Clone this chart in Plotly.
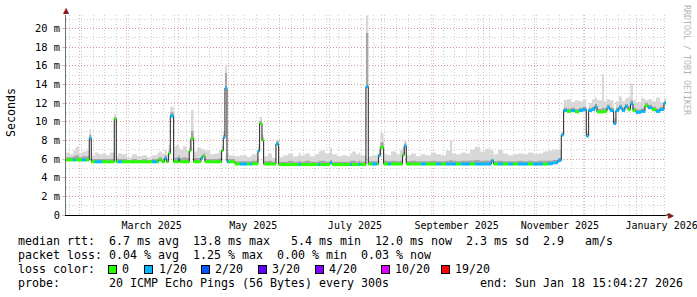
import plotly.graph_objects as go

# ---------------- data ----------------
dates = [
    "2025-01-23 15:04", "2025-01-26 00:00", "2025-01-27 19:00", "2025-01-29 07:00", "2025-01-31 10:00",
    "2025-02-02 05:00", "2025-02-04 14:00", "2025-02-06 14:00", "2025-02-07 19:00", "2025-02-10 00:00",
    "2025-02-12 10:00", "2025-02-14 05:00", "2025-02-16 14:00", "2025-02-19 00:00", "2025-02-21 14:00",
    "2025-02-22 19:00", "2025-02-23 19:00", "2025-02-26 05:00", "2025-03-01 05:00", "2025-03-04 05:00",
    "2025-03-07 05:00", "2025-03-10 05:00", "2025-03-13 05:00", "2025-03-16 05:00", "2025-03-19 05:00",
    "2025-03-20 05:00", "2025-03-22 05:00", "2025-03-23 19:00", "2025-03-25 00:00", "2025-03-26 05:00",
    "2025-03-27 05:00", "2025-03-29 05:00", "2025-03-30 14:00", "2025-04-01 05:00", "2025-04-01 19:00",
    "2025-04-03 19:00", "2025-04-05 14:00", "2025-04-07 14:00", "2025-04-08 14:00", "2025-04-10 05:00",
    "2025-04-12 05:00", "2025-04-14 14:00", "2025-04-15 19:00", "2025-04-17 00:00", "2025-04-20 00:00",
    "2025-04-23 00:00", "2025-04-25 10:00", "2025-04-27 00:00", "2025-04-28 00:00", "2025-04-29 00:00",
    "2025-04-30 05:00", "2025-05-01 10:00", "2025-05-05 00:00", "2025-05-08 00:00", "2025-05-12 05:00",
    "2025-05-14 00:00", "2025-05-15 05:00", "2025-05-18 19:00", "2025-05-19 19:00", "2025-05-21 05:00",
    "2025-05-22 05:00", "2025-05-24 19:00", "2025-05-27 05:00", "2025-05-29 14:00", "2025-05-31 05:00",
    "2025-06-02 19:00", "2025-06-05 19:00", "2025-06-08 19:00", "2025-06-12 05:00", "2025-06-13 05:00",
    "2025-06-16 00:00", "2025-06-19 00:00", "2025-06-22 00:00", "2025-06-24 05:00", "2025-06-25 05:00",
    "2025-06-28 00:00", "2025-07-01 00:00", "2025-07-02 05:00", "2025-07-05 05:00", "2025-07-08 05:00",
    "2025-07-11 05:00", "2025-07-13 05:00", "2025-07-14 05:00", "2025-07-16 14:00", "2025-07-18 05:00",
    "2025-07-19 05:00", "2025-07-22 14:00", "2025-07-24 00:00", "2025-07-26 05:00", "2025-07-29 05:00",
    "2025-07-30 05:00", "2025-07-31 05:00", "2025-08-02 05:00", "2025-08-04 19:00", "2025-08-06 14:00",
    "2025-08-09 14:00", "2025-08-12 00:00", "2025-08-13 14:00", "2025-08-14 14:00", "2025-08-15 19:00",
    "2025-08-18 14:00", "2025-08-21 14:00", "2025-08-24 14:00", "2025-08-27 14:00", "2025-08-30 14:00",
    "2025-09-02 14:00", "2025-09-05 14:00", "2025-09-08 14:00", "2025-09-11 00:00", "2025-09-12 05:00",
    "2025-09-14 14:00", "2025-09-17 14:00", "2025-09-20 14:00", "2025-09-23 00:00", "2025-09-26 00:00",
    "2025-09-29 00:00", "2025-10-02 00:00", "2025-10-05 19:00", "2025-10-07 05:00", "2025-10-09 19:00",
    "2025-10-12 19:00", "2025-10-15 19:00", "2025-10-18 19:00", "2025-10-21 19:00", "2025-10-24 19:00",
    "2025-10-27 19:00", "2025-10-30 19:00", "2025-11-02 19:00", "2025-11-05 19:00", "2025-11-08 19:00",
    "2025-11-11 19:00", "2025-11-14 19:00", "2025-11-16 19:00", "2025-11-18 05:00", "2025-11-20 05:00",
    "2025-11-22 14:00", "2025-11-25 00:00", "2025-11-27 10:00", "2025-11-29 19:00", "2025-12-01 19:00",
    "2025-12-03 05:00", "2025-12-05 05:00", "2025-12-07 00:00", "2025-12-08 05:00", "2025-12-11 05:00",
    "2025-12-12 10:00", "2025-12-14 05:00", "2025-12-16 00:00", "2025-12-18 05:00", "2025-12-19 14:00",
    "2025-12-21 10:00", "2025-12-23 05:00", "2025-12-25 00:00", "2025-12-26 19:00", "2025-12-28 07:00",
    "2025-12-29 19:00", "2025-12-31 14:00", "2026-01-03 14:00", "2026-01-06 00:00", "2026-01-07 19:00",
    "2026-01-10 05:00", "2026-01-12 14:00", "2026-01-15 00:00", "2026-01-17 10:00", "2026-01-18 15:04",
]

# median rtt (ms)
median_ms = [
    5.9, 5.9, 5.9, 5.9, 5.9, 5.9, 5.9, 8.2, 5.7, 5.7,
    5.7, 5.7, 5.7, 5.7, 10.3, 5.7, 5.7, 5.7, 5.7, 5.7,
    5.7, 5.7, 5.7, 5.7, 5.7, 5.9, 5.7, 6.07, 5.7, 6.6,
    10.6, 5.7, 5.7, 6.0, 5.7, 5.7, 5.7, 6.86, 8.2, 5.7,
    5.7, 6.1, 6.3, 5.7, 5.7, 5.7, 5.7, 6.9, 8.3, 13.6,
    5.7, 5.7, 5.46, 5.46, 5.46, 5.46, 5.5, 6.86, 9.8, 8.0,
    5.46, 5.46, 5.46, 7.6, 5.4, 5.4, 5.4, 5.4, 5.4, 5.4,
    5.4, 5.4, 5.4, 5.4, 5.4, 5.4, 5.6, 5.4, 5.4, 5.4,
    5.4, 5.4, 5.4, 5.4, 5.4, 5.4, 13.75, 5.46, 5.46, 5.46,
    6.36, 7.25, 5.46, 5.46, 5.46, 5.46, 5.46, 6.43, 7.4, 5.46,
    5.46, 5.46, 5.46, 5.46, 5.46, 5.46, 5.46, 5.46, 5.46, 5.46,
    5.46, 5.46, 5.46, 5.46, 5.46, 5.46, 5.46, 5.8, 5.46, 5.46,
    5.46, 5.46, 5.46, 5.46, 5.46, 5.46, 5.46, 5.46, 5.46, 5.5,
    5.6, 5.85, 8.57, 11.2, 11.1, 11.2, 11.05, 11.2, 11.3, 8.46,
    11.2, 11.3, 11.6, 11.05, 11.05, 11.1, 11.5, 11.2, 9.8, 11.2,
    11.5, 11.2, 11.6, 11.3, 11.9, 11.2, 11.0, 11.1, 11.7, 11.5,
    11.3, 11.1, 11.3, 12.0, 12.0,
]

# number of lost pings out of 20 for each interval
loss_n = [
    0, 0, 1, 0, 0, 1, 0, 1, 0, 1,
    1, 0, 0, 0, 0, 0, 1, 0, 0, 0,
    0, 0, 0, 1, 0, 0, 0, 1, 0, 0,
    1, 0, 0, 1, 0, 0, 0, 0, 0, 0,
    0, 1, 0, 0, 0, 0, 0, 0, 1, 1,
    1, 0, 0, 1, 0, 1, 0, 1, 0, 0,
    0, 0, 0, 1, 0, 0, 0, 0, 1, 0,
    0, 0, 0, 1, 0, 0, 1, 0, 0, 0,
    0, 1, 0, 0, 1, 0, 1, 0, 1, 0,
    1, 0, 0, 1, 0, 0, 0, 0, 1, 0,
    0, 0, 1, 0, 0, 1, 0, 1, 1, 1,
    0, 1, 1, 0, 1, 1, 1, 1, 0, 1,
    0, 1, 0, 1, 1, 0, 1, 1, 0, 1,
    1, 1, 1, 1, 0, 1, 0, 1, 1, 1,
    1, 1, 1, 0, 0, 0, 1, 1, 1, 1,
    1, 1, 1, 0, 1, 0, 1, 1, 0, 1,
    0, 1, 1, 1, 1,
]

# slowest ping of the 20 (top of the smoke), ms
smoke_max_ms = [
    6.7, 6.5, 6.9, 7.3, 6.6, 6.8, 6.9, 9.2, 6.4, 6.7,
    6.5, 6.6, 6.4, 6.7, 10.8, 6.3, 6.6, 6.5, 6.2, 6.5,
    6.3, 6.4, 6.2, 6.4, 6.6, 6.8, 6.5, 7.0, 6.5, 7.5,
    11.6, 7.3, 7.5, 7.3, 7.0, 7.4, 6.9, 8.0, 11.25, 6.8,
    7.2, 7.1, 7.0, 6.9, 6.5, 6.6, 6.9, 7.4, 9.0, 16.1,
    6.5, 6.4, 6.3, 6.4, 6.2, 6.3, 6.5, 7.6, 10.5, 8.6,
    6.3, 6.6, 6.1, 8.1, 6.2, 6.4, 6.6, 6.3, 6.7, 6.4,
    6.6, 6.3, 6.5, 6.8, 6.9, 6.6, 7.2, 6.5, 6.3, 6.4,
    6.3, 6.6, 6.8, 6.5, 6.7, 6.4, 21.4, 6.3, 6.4, 6.6,
    7.0, 8.75, 6.5, 6.4, 6.8, 6.5, 7.0, 7.3, 8.0, 6.4,
    6.6, 6.3, 6.5, 6.4, 6.7, 6.5, 6.4, 6.9, 8.0, 6.6,
    6.5, 6.7, 6.6, 7.0, 7.3, 6.8, 7.1, 6.9, 6.5, 7.0,
    6.6, 6.4, 6.5, 6.6, 6.5, 6.7, 6.5, 6.6, 6.8, 6.9,
    7.0, 7.0, 8.9, 12.3, 12.4, 12.1, 12.3, 12.2, 12.4, 9.0,
    12.0, 12.4, 12.6, 12.3, 15.1, 12.2, 12.4, 12.3, 10.4, 12.2,
    12.7, 12.2, 12.5, 12.6, 14.1, 12.3, 12.1, 12.5, 12.3, 12.4,
    12.2, 12.6, 12.1, 12.5, 12.5,
]

# upper quartile of the 20 pings (dense part of the smoke), ms
smoke_p75_ms = [
    6.2, 6.2, 6.3, 6.4, 6.2, 6.3, 6.3, 8.6, 6.0, 6.0,
    6.0, 6.0, 6.0, 6.0, 10.5, 6.0, 6.0, 6.0, 5.9, 6.0,
    5.9, 6.0, 5.9, 6.0, 6.0, 6.2, 6.0, 6.4, 6.0, 6.9,
    11.0, 6.1, 6.2, 6.4, 6.1, 6.2, 6.1, 7.2, 9.0, 6.1,
    6.1, 6.4, 6.6, 6.0, 6.0, 6.0, 6.1, 7.1, 8.6, 15.2,
    6.0, 6.0, 5.75, 5.75, 5.75, 5.75, 5.8, 7.1, 10.1, 8.3,
    5.75, 5.8, 5.7, 7.9, 5.7, 5.7, 5.8, 5.7, 5.8, 5.7,
    5.8, 5.7, 5.7, 5.8, 5.8, 5.7, 5.9, 5.7, 5.7, 5.7,
    5.7, 5.8, 5.8, 5.7, 5.8, 5.7, 19.5, 5.75, 5.75, 5.8,
    6.6, 7.8, 5.8, 5.75, 5.8, 5.75, 5.8, 6.7, 7.7, 5.75,
    5.8, 5.75, 5.75, 5.75, 5.8, 5.75, 5.75, 5.8, 5.9, 5.8,
    5.75, 5.8, 5.8, 5.85, 5.9, 5.8, 5.85, 6.0, 5.75, 5.8,
    5.75, 5.75, 5.75, 5.8, 5.75, 5.8, 5.75, 5.8, 5.8, 5.85,
    5.9, 6.1, 8.7, 11.5, 11.4, 11.5, 11.35, 11.5, 11.6, 8.7,
    11.5, 11.6, 11.9, 11.35, 11.5, 11.4, 11.8, 11.5, 10.1, 11.5,
    11.8, 11.5, 11.9, 11.6, 12.3, 11.5, 11.3, 11.4, 12.0, 11.8,
    11.6, 11.4, 11.6, 12.2, 12.2,
]

x_start = "2025-01-23 15:04:27"
x_end = "2026-01-18 15:04:27"

month_label_dates = ["2025-03-16", "2025-05-16", "2025-07-16", "2025-09-15", "2025-11-16", "2026-01-16"]
month_labels = ["March 2025", "May 2025", "July 2025", "September 2025", "November 2025", "January 2026"]

y_tick_values = [0, 2, 4, 6, 8, 10, 12, 14, 16, 18, 20]
y_tick_labels = ["0", "2 m", "4 m", "6 m", "8 m", "10 m", "12 m", "14 m", "16 m", "18 m", "20 m"]
y_top = 21.43

loss_classes = [0, 1, 2, 3, 4, 10, 19]
loss_labels = ["0", "1/20", "2/20", "3/20", "4/20", "10/20", "19/20"]
loss_colors = ["#26ff00", "#00b8ff", "#0059ff", "#5e00ff", "#7e00ff", "#dd00ff", "#ff0000"]

legend_rtt = "median rtt:  6.7 ms avg  13.8 ms max   5.4 ms min  12.0 ms now  2.3 ms sd  2.9   am/s"
legend_loss = "packet loss: 0.04 % avg  1.25 % max  0.00 % min  0.03 % now"
legend_probe = "probe:       20 ICMP Echo Pings (56 Bytes) every 300s             end: Sun Jan 18 15:04:27 2026"

# ---------------- layout geometry ----------------
W, H = 697, 297
ML, MR, MT, MB = 66, 31, 15, 82
PW, PH = W - ML - MR, H - MT - MB
MONO = "DejaVu Sans Mono"


def px_x(p):
    return (p - ML) / PW


def px_y(p):
    return (H - MB - p) / PH


def nb(s):
    return s.replace(" ", "\u00a0")


fig = go.Figure()

# smoke: light band (median .. max)
fig.add_trace(go.Scatter(x=dates, y=median_ms, mode="lines", line=dict(width=0, shape="hv"),
                         hoverinfo="skip", showlegend=False))
fig.add_trace(go.Scatter(x=dates, y=smoke_max_ms, mode="lines", line=dict(width=0, shape="hv"),
                         fill="tonexty", fillcolor="#d8d8d8", hoverinfo="skip", showlegend=False))
# smoke: dense band (median .. upper quartile)
fig.add_trace(go.Scatter(x=dates, y=median_ms, mode="lines", line=dict(width=0, shape="hv"),
                         hoverinfo="skip", showlegend=False))
fig.add_trace(go.Scatter(x=dates, y=smoke_p75_ms, mode="lines", line=dict(width=0, shape="hv"),
                         fill="tonexty", fillcolor="#a6a6a6", hoverinfo="skip", showlegend=False))

# thin dark median line
fig.add_trace(go.Scatter(x=dates, y=median_ms, mode="lines", line=dict(width=1, color="#202020", shape="hv"),
                         hoverinfo="skip", showlegend=False))

# loss-coloured median segments
for cls, col in zip(loss_classes, loss_colors):
    xs, ys = [], []
    for i in range(len(dates) - 1):
        if loss_n[i] == cls:
            xs += [dates[i], dates[i + 1], None]
            ys += [median_ms[i], median_ms[i], None]
    if xs:
        fig.add_trace(go.Scatter(x=xs, y=ys, mode="lines", line=dict(width=3, color=col),
                                 hoverinfo="skip", showlegend=False))

# carrier for the label axis
fig.add_trace(go.Scatter(x=dates[:1], y=median_ms[:1], xaxis="x2", mode="markers",
                         marker=dict(opacity=0), hoverinfo="skip", showlegend=False))

RED_GRID = "rgba(225,110,110,0.55)"
GREY_GRID = "rgba(175,175,175,0.6)"
DASH = "1px,2px"

fig.update_layout(
    width=W, height=H,
    margin=dict(l=ML, r=MR, t=MT, b=MB, pad=0, autoexpand=False),
    paper_bgcolor="white", plot_bgcolor="white",
    showlegend=False,
    font=dict(family=MONO, size=10, color="black"),
    xaxis=dict(
        type="date", range=[x_start, x_end], automargin=False,
        tickmode="linear", tick0="2025-02-01", dtick="M1",
        showticklabels=False, ticks="",
        showgrid=True, gridcolor=RED_GRID, griddash=DASH, gridwidth=1,
        minor=dict(tickmode="linear", tick0="2025-01-26", dtick=7 * 86400000,
                   showgrid=True, gridcolor=GREY_GRID, griddash=DASH, gridwidth=1, ticks=""),
        showline=True, linecolor="black", linewidth=1,
        zeroline=False,
    ),
    xaxis2=dict(
        type="date", range=[x_start, x_end], overlaying="x", anchor="y", side="bottom",
        automargin=False,
        tickmode="array", tickvals=month_label_dates, ticktext=month_labels,
        showgrid=False, ticks="", showline=False, zeroline=False,
        ticklabeloverflow="allow", ticklabelstandoff=3,
        tickfont=dict(family=MONO, size=10, color="black"),
    ),
    yaxis=dict(
        range=[0, y_top], automargin=False,
        tickmode="array", tickvals=y_tick_values, ticktext=y_tick_labels,
        showgrid=True, gridcolor=RED_GRID, griddash=DASH, gridwidth=1,
        minor=dict(tickmode="linear", tick0=0, dtick=1, showgrid=True,
                   gridcolor=GREY_GRID, griddash=DASH, gridwidth=1, ticks=""),
        ticks="outside", ticklen=3, tickcolor=RED_GRID,
        tickfont=dict(family=MONO, size=10.4, color="black"),
        showline=True, linecolor="#707070", linewidth=1,
        zeroline=False,
    ),
)

ann = []
# axis title
ann.append(dict(x=px_x(11), y=px_y(113), xref="paper", yref="paper", text="Seconds", textangle=-90,
                showarrow=False, font=dict(family=MONO, size=11.6, color="black"),
                xanchor="center", yanchor="middle"))
# watermark
ann.append(dict(x=px_x(687), y=px_y(60), xref="paper", yref="paper", text=nb("RRDTOOL / TOBI OETIKER"),
                textangle=90, showarrow=False, font=dict(family=MONO, size=8.3, color="#b4b4b4"),
                xanchor="center", yanchor="middle"))
# axis arrows
ann.append(dict(x=px_x(66.5), y=px_y(10), xref="paper", yref="paper", text="▲", showarrow=False,
                font=dict(family="DejaVu Sans", size=8, color="#8b1a1a"), xanchor="center", yanchor="middle"))
ann.append(dict(x=px_x(671.5), y=px_y(215), xref="paper", yref="paper", text="▶", showarrow=False,
                font=dict(family="DejaVu Sans", size=8, color="#8b1a1a"), xanchor="center", yanchor="middle"))

# legend text lines
LEG = dict(family=MONO, size=11.63, color="black")
ann.append(dict(x=px_x(16), y=px_y(241), xref="paper", yref="paper", text=nb(legend_rtt), showarrow=False,
                font=LEG, xanchor="left", yanchor="middle"))
ann.append(dict(x=px_x(16), y=px_y(255), xref="paper", yref="paper", text=nb(legend_loss), showarrow=False,
                font=LEG, xanchor="left", yanchor="middle"))
ann.append(dict(x=px_x(16), y=px_y(269), xref="paper", yref="paper", text=nb("loss color:"), showarrow=False,
                font=LEG, xanchor="left", yanchor="middle"))
ann.append(dict(x=px_x(16), y=px_y(283), xref="paper", yref="paper", text=nb(legend_probe), showarrow=False,
                font=LEG, xanchor="left", yanchor="middle"))

label_px = [120, 156.7, 213.3, 270, 327, 393.3, 453.3]
for lab, col, lx in zip(loss_labels, loss_colors, label_px):
    ann.append(dict(x=px_x(lx - 8), y=px_y(269), xref="paper", yref="paper", text="\u00a0",
                    showarrow=False, width=7, height=7, bgcolor=col, bordercolor="black",
                    borderwidth=1, borderpad=0, font=dict(size=2), xanchor="center", yanchor="middle"))
    ann.append(dict(x=px_x(lx), y=px_y(269), xref="paper", yref="paper", text=lab, showarrow=False,
                    font=LEG, xanchor="left", yanchor="middle"))

fig.update_layout(annotations=ann)

# extension of the x axis line toward its arrow
fig.add_shape(type="line", xref="paper", yref="paper", x0=1, x1=px_x(669), y0=0, y1=0,
              line=dict(color="black", width=1))

fig.write_html("out.html")
